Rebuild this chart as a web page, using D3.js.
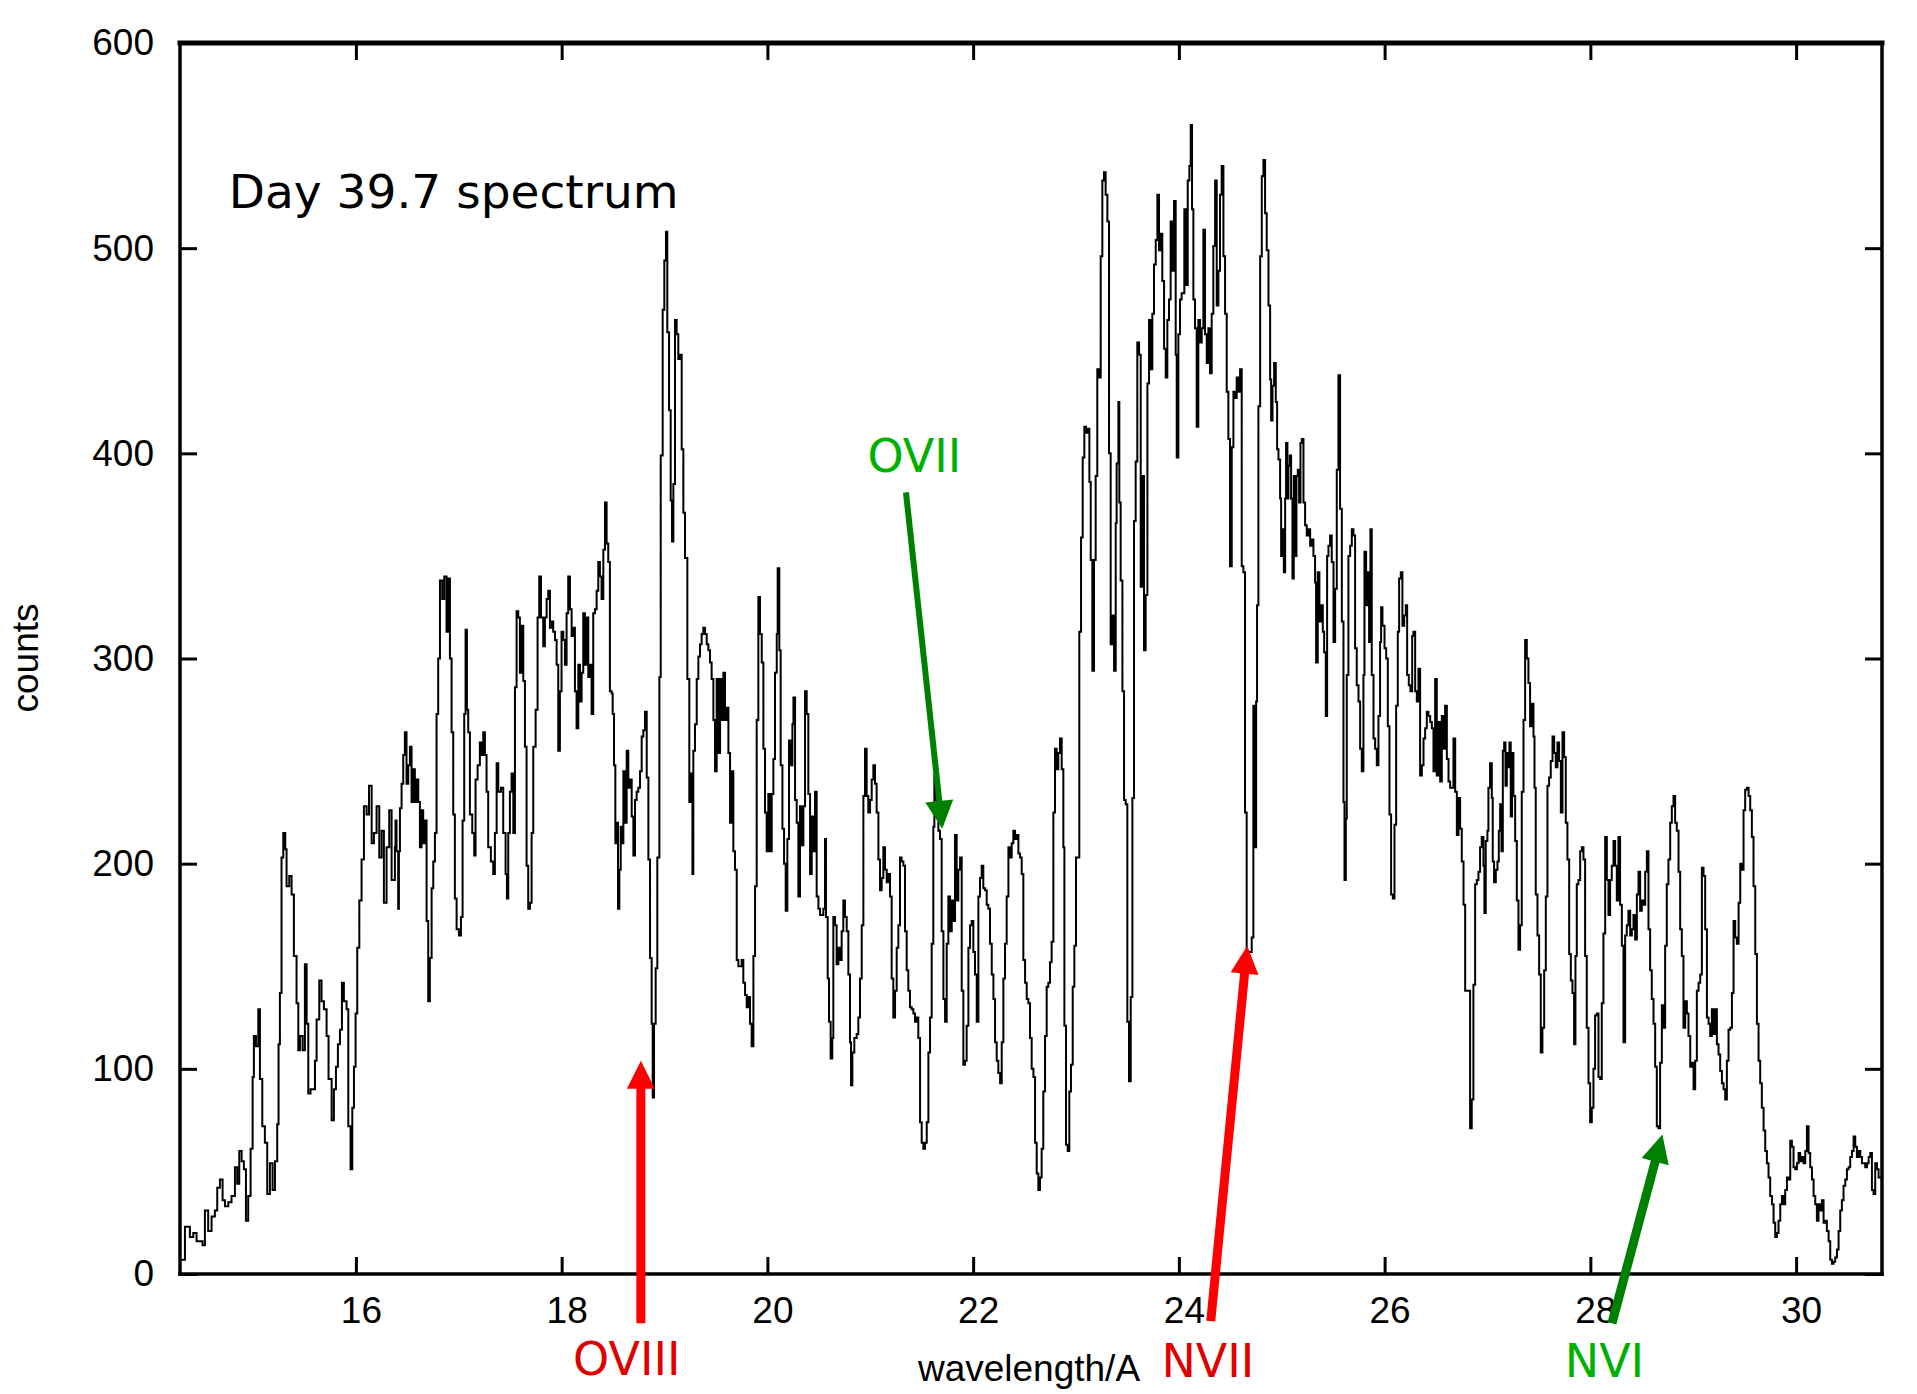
<!DOCTYPE html>
<html>
<head>
<meta charset="utf-8">
<script src="https://cdn.jsdelivr.net/npm/d3@7"></script>
<style>
  body { margin: 0; background: #fff; }
  .axis text { font-family: "Liberation Sans", Arial, sans-serif; font-size: 37px; fill: #000; }
  .axis line { stroke: #000; stroke-width: 3; }
  .label { font-family: "Liberation Sans", Arial, sans-serif; font-size: 37px; fill: #000; }
  .note { font-family: "DejaVu Sans", sans-serif; font-size: 46px; }
</style>
</head>
<body>
<svg id="chart"></svg>
<script>
// spectrum: [wavelength (A), counts]
const spectrum = [
  [14.289,7],[14.338,23],[14.354,23],[14.386,18],[14.419,20],[14.451,16],[14.483,16],[14.509,14],[14.532,31],[14.564,21],
  [14.597,28],[14.629,31],[14.652,42],[14.678,46],[14.704,36],[14.727,33],[14.759,35],[14.791,38],[14.824,52],[14.846,44],
  [14.866,60],[14.889,55],[14.911,51],[14.931,26],[14.953,38],[14.976,61],[14.996,96],[15.008,116],[15.028,111],[15.051,129],
  [15.067,95],[15.090,72],[15.115,64],[15.138,39],[15.164,54],[15.190,41],[15.213,55],[15.235,73],[15.248,112],[15.261,137],
  [15.277,203],[15.294,215],[15.313,207],[15.326,189],[15.352,194],[15.375,185],[15.397,155],[15.423,132],[15.440,109],[15.456,116],
  [15.482,109],[15.504,151],[15.521,122],[15.537,88],[15.559,90],[15.585,90],[15.602,104],[15.618,124],[15.644,143],[15.666,133],
  [15.689,129],[15.715,116],[15.734,95],[15.764,75],[15.786,90],[15.806,101],[15.825,112],[15.845,119],[15.864,142],[15.883,133],
  [15.909,129],[15.926,72],[15.948,51],[15.965,81],[15.981,101],[15.997,127],[16.013,159],[16.033,182],[16.055,202],[16.078,228],
  [16.104,224],[16.127,238],[16.153,210],[16.175,215],[16.201,228],[16.227,203],[16.250,216],[16.272,181],[16.298,208],[16.324,226],
  [16.347,192],[16.379,208],
  [16.385,221],[16.395,206],[16.411,178],[16.418,206],[16.428,227],[16.444,239],[16.460,253],[16.476,264],[16.492,239],[16.509,248],
  [16.525,257],[16.541,230],[16.557,246],[16.573,230],[16.590,241],[16.606,230],[16.622,208],[16.638,226],[16.654,210],[16.671,221],
  [16.687,172],[16.703,133],[16.719,154],[16.736,188],[16.752,201],[16.768,215],[16.784,273],[16.800,300],[16.817,338],[16.839,329],
  [16.859,340],[16.881,313],[16.898,339],[16.914,300],[16.930,264],[16.946,224],[16.962,183],[16.979,168],[17.001,165],[17.021,174],
  [17.037,221],[17.053,273],[17.066,314],[17.079,275],[17.092,264],[17.108,224],[17.131,215],[17.150,204],[17.163,241],[17.183,248],
  [17.205,259],[17.222,253],[17.238,264],[17.254,253],[17.270,235],[17.286,208],[17.312,201],[17.335,195],[17.351,215],[17.368,249],
  [17.384,235],[17.410,237],[17.432,215],[17.455,195],[17.468,183],[17.481,215],[17.497,235],[17.513,244],[17.530,215],[17.546,286],
  [17.562,323],[17.578,320],[17.594,293],[17.611,316],[17.627,289],[17.643,257],[17.659,199],[17.675,178],[17.692,181],[17.708,215],
  [17.724,257],[17.747,275],[17.766,320],[17.782,340],[17.799,320],[17.821,306],[17.837,320],[17.854,329],[17.870,333],[17.886,315],
  [17.902,318],[17.918,313],[17.935,309],[17.951,297],[17.967,255],[17.983,284],[17.999,313],[18.016,309],[18.032,297],[18.048,322],
  [18.064,340],[18.081,324],[18.097,311],[18.113,315],[18.129,284],[18.145,266],[18.162,297],[18.178,279],[18.194,293],[18.210,322],
  [18.226,297],[18.243,320],[18.259,291],[18.275,297],[18.291,273],[18.307,322],[18.324,324],[18.340,333],[18.356,347],[18.372,340],
  [18.388,329],[18.405,353],[18.421,376],[18.437,356],[18.453,347],[18.469,284],
  [18.486,283],[18.496,273],[18.509,248],[18.522,210],[18.535,220],[18.548,178],[18.561,197],[18.574,218],[18.587,210],[18.600,245],
  [18.616,220],[18.632,255],[18.648,237],[18.664,241],[18.681,223],[18.697,204],[18.713,231],[18.729,235],[18.745,237],[18.762,245],
  [18.778,262],[18.794,265],[18.810,274],[18.827,242],[18.843,202],[18.859,154],[18.875,122],[18.885,86],[18.898,122],[18.914,149],
  [18.930,203],[18.950,291],[18.963,399],[18.982,470],[18.998,494],[19.014,508],[19.027,459],[19.044,421],[19.060,377],[19.073,357],
  [19.086,385],[19.102,465],[19.118,458],[19.134,446],[19.151,448],[19.167,402],[19.183,371],[19.199,349],[19.222,290],[19.241,230],
  [19.254,244],[19.271,195],[19.280,255],[19.296,268],[19.313,290],[19.329,301],[19.345,307],[19.361,312],[19.377,315],[19.394,312],
  [19.410,307],[19.426,304],[19.442,298],[19.458,290],[19.475,270],[19.491,245],[19.507,290],[19.523,254],[19.540,290],[19.556,270],
  [19.572,293],[19.588,270],[19.604,276],[19.621,254],[19.637,220],[19.653,245],[19.669,206],[19.685,197],[19.702,153],[19.718,150],
  [19.750,153],[19.766,142],[19.783,136],[19.799,130],[19.815,135],[19.831,122],[19.847,111],[19.864,155],[19.880,189],[19.896,270],
  [19.912,330],[19.928,312],[19.945,298],[19.961,256],[19.977,225],[19.993,206],[20.009,234],[20.026,206],[20.042,234],[20.058,251],
  [20.074,293],[20.091,312],[20.100,344],[20.116,304],[20.129,248],[20.146,217],[20.162,200],[20.178,177],[20.194,212],[20.210,260],
  [20.227,248],[20.243,268],[20.253,281],[20.269,231],[20.285,220],[20.301,184],[20.317,228],[20.334,209],[20.350,228],[20.366,284],
  [20.382,273],[20.398,234],[20.415,195],[20.431,223],[20.447,206],[20.463,235],[20.479,184],[20.496,178],[20.512,175],[20.544,178],
  [20.560,212],[20.570,174],[20.586,144],[20.599,123],[20.615,105],[20.631,115],[20.641,174],[20.657,170],[20.673,151],[20.690,159],
  [20.706,153],[20.722,167],[20.738,182],[20.754,174],[20.771,167],[20.787,146],[20.803,113],[20.813,92],[20.826,108],[20.845,115],
  [20.868,117],[20.884,125],[20.900,144],[20.917,170],[20.933,233],[20.949,256],[20.965,233],[20.981,225],[20.998,231],[21.014,241],
  [21.030,248],[21.046,239],[21.062,225],[21.079,202],[21.095,187],[21.111,193],[21.127,208],[21.143,197],[21.160,191],[21.176,195],
  [21.192,184],[21.208,144],[21.224,125],[21.241,138],[21.257,159],[21.273,170],[21.289,203],[21.305,201],[21.322,199],[21.338,167],
  [21.354,148],[21.370,138],[21.386,130],[21.403,129],[21.419,127],[21.435,123],[21.451,125],[21.467,115],[21.484,74],[21.500,64],
  [21.516,61],[21.532,64],[21.549,74],[21.565,108],[21.581,125],[21.597,161],[21.613,218],[21.623,243],[21.636,231],[21.649,225],
  [21.662,216],[21.678,212],[21.694,167],[21.711,134],[21.727,123],[21.743,161],[21.759,184],[21.775,167],[21.792,182],[21.808,172],
  [21.824,214],[21.840,182],[21.856,197],[21.873,203],[21.889,138],[21.905,102],[21.921,104],[21.937,121],[21.954,159],[21.970,170],
  [21.986,172],[22.002,157],[22.018,146],[22.035,123],[22.051,184],[22.067,193],[22.083,199],[22.099,188],[22.116,187],[22.132,180],
  [22.148,178],[22.164,161],[22.181,146],[22.197,134],[22.213,113],[22.229,104],[22.245,98],[22.262,93],[22.278,113],[22.294,144],
  [22.310,161],[22.326,184],[22.343,208],[22.359,203],[22.375,210],[22.391,216],[22.407,212],[22.424,214],[22.440,205],[22.456,203],
  [22.472,195],[22.488,153],[22.505,142],[22.521,134],[22.537,132],[22.553,115],[22.569,100],[22.586,96],[22.602,64],[22.618,49],
  [22.634,41],[22.650,47],
  [22.666,61],[22.682,89],[22.699,116],[22.715,140],[22.731,142],[22.747,152],[22.763,162],[22.780,225],[22.796,256],[22.812,246],
  [22.828,254],[22.844,261],[22.861,246],[22.877,208],[22.887,121],[22.903,63],[22.919,60],[22.935,89],[22.951,102],[22.968,140],
  [22.984,160],[23.000,203],[23.016,203],[23.032,313],[23.049,359],[23.065,398],[23.081,413],[23.097,410],[23.113,412],[23.130,386],
  [23.143,348],[23.159,294],[23.175,348],[23.191,389],[23.207,441],[23.224,437],[23.240,496],[23.256,533],[23.272,537],[23.288,526],
  [23.305,513],[23.321,400],[23.337,307],[23.353,321],[23.370,294],[23.386,366],[23.395,395],[23.412,425],[23.421,376],[23.434,338],
  [23.451,284],[23.467,231],[23.483,229],[23.499,123],[23.515,94],[23.532,135],[23.548,232],[23.564,367],[23.580,396],[23.596,454],
  [23.613,448],[23.629,335],[23.645,389],[23.661,304],[23.677,331],[23.694,434],[23.710,465],[23.726,441],[23.742,468],[23.758,492],
  [23.775,504],[23.791,526],[23.807,499],[23.823,507],[23.839,484],[23.856,451],[23.872,437],[23.888,465],[23.904,475],[23.920,513],
  [23.937,489],[23.953,523],[23.969,448],[23.979,398],[23.995,458],[24.011,475],[24.027,478],[24.044,478],[24.053,519],[24.070,482],
  [24.086,533],[24.102,540],[24.115,560],[24.128,519],[24.141,475],[24.157,461],[24.173,413],[24.189,465],[24.206,454],[24.222,461],
  [24.238,509],[24.254,458],[24.271,444],[24.287,461],[24.303,439],[24.319,468],[24.335,501],[24.352,533],[24.368,472],[24.384,489],
  [24.400,526],[24.416,540],[24.433,496],[24.449,468],[24.465,430],[24.481,407],[24.497,345],[24.514,403],[24.530,430],[24.546,427],
  [24.562,437],[24.578,430],[24.595,441],[24.611,345],[24.627,342],[24.643,225],[24.659,157],[24.676,157],[24.692,157],[24.708,164],
  [24.724,277],[24.740,208],
  [24.751,279],[24.760,326],[24.773,423],[24.790,496],[24.806,535],[24.822,543],[24.838,517],[24.854,499],[24.871,472],[24.887,436],
  [24.897,416],[24.910,433],[24.926,444],[24.942,425],[24.955,402],[24.968,397],[24.984,378],[24.994,350],[25.007,363],[25.020,342],
  [25.033,378],[25.042,405],[25.055,378],[25.065,394],[25.078,399],[25.091,378],[25.104,339],[25.117,389],[25.130,350],[25.143,389],
  [25.156,392],[25.169,376],[25.182,405],[25.195,407],[25.211,376],[25.227,365],[25.243,360],[25.260,363],[25.276,355],[25.292,358],
  [25.308,350],[25.324,337],[25.334,298],[25.350,342],[25.366,318],[25.383,326],[25.399,313],[25.412,303],[25.428,272],[25.441,350],
  [25.454,355],[25.470,360],[25.486,347],[25.503,308],[25.519,334],[25.535,392],[25.551,438],[25.567,373],[25.584,318],[25.600,230],
  [25.610,192],[25.623,222],[25.632,292],[25.648,350],[25.665,355],[25.681,363],[25.697,360],[25.713,305],[25.729,287],[25.746,279],
  [25.762,256],[25.778,245],[25.794,292],[25.804,352],[25.820,326],[25.836,342],[25.849,308],[25.862,363],[25.875,292],[25.892,261],
  [25.908,256],[25.924,248],[25.940,272],[25.956,308],[25.966,325],[25.979,316],[25.999,305],[26.015,300],[26.031,267],[26.047,224],
  [26.063,185],[26.080,183],[26.096,219],[26.112,277],[26.128,313],[26.141,339],[26.157,342],[26.173,316],[26.190,321],[26.206,326],
  [26.219,292],[26.235,287],[26.251,284],[26.268,311],[26.280,313],[26.297,284],[26.313,279],[26.329,295],[26.345,243],[26.362,248],
  [26.378,261],[26.394,266],[26.410,274],[26.426,272],[26.443,269],[26.459,266],[26.475,245],[26.491,290],[26.507,243],[26.524,269],
  [26.540,240],[26.556,272],[26.572,256],[26.588,277],[26.605,251],[26.621,240],[26.637,237],[26.653,237],[26.669,261],[26.686,235],
  [26.702,214],[26.718,232],[26.734,217],[26.750,201],[26.767,180],[26.783,138],
  [26.831,71],[26.847,85],[26.863,141],[26.880,190],[26.896,192],[26.912,196],[26.928,208],[26.944,213],[26.961,199],[26.970,176],
  [26.983,211],[26.999,216],[27.009,237],[27.025,249],[27.042,232],[27.051,201],[27.064,191],[27.081,197],[27.097,201],[27.110,216],
  [27.123,229],[27.136,206],[27.149,255],[27.162,259],[27.175,238],[27.188,254],[27.200,247],[27.213,259],[27.226,223],[27.239,254],
  [27.252,233],[27.269,211],[27.285,182],[27.301,158],[27.317,170],[27.333,235],[27.350,270],[27.366,309],[27.382,300],[27.398,288],
  [27.414,267],[27.431,278],[27.447,262],[27.457,237],[27.469,185],[27.486,165],[27.502,146],[27.518,108],[27.534,120],[27.551,148],
  [27.567,184],[27.583,238],[27.599,242],[27.615,250],[27.632,262],[27.648,254],[27.664,247],[27.680,259],[27.696,250],[27.713,225],
  [27.729,264],[27.745,252],[27.761,220],[27.777,202],[27.794,156],[27.810,143],[27.826,137],[27.842,112],[27.855,155],[27.868,190],
  [27.884,192],[27.901,206],[27.917,208],[27.933,202],[27.949,155],[27.965,120],[27.982,93],[27.998,74],[28.014,81],[28.030,100],
  [28.046,126],[28.063,127],[28.079,96],[28.095,95],[28.111,132],[28.127,166],[28.144,213],[28.160,192],[28.176,175],[28.192,192],
  [28.208,199],[28.225,211],[28.241,199],[28.257,182],[28.273,213],[28.289,180],[28.306,160],[28.322,113],[28.338,165],[28.354,170],
  [28.370,177],[28.387,165],[28.403,168],[28.419,175],[28.435,163],[28.452,185],[28.468,196],[28.484,177],[28.500,182],[28.516,180],
  [28.533,196],[28.549,206],[28.565,168],[28.581,148],[28.597,134],[28.614,122],[28.630,101],[28.646,72],[28.662,71],[28.678,103],
  [28.695,131],[28.711,120],[28.727,160],[28.743,190],[28.759,202],[28.776,220],[28.792,228],[28.808,233],[28.824,220],[28.840,216],
  [28.857,196],[28.873,168],[28.889,155],[28.905,120],
  [28.922,133],[28.938,127],[28.954,116],[28.971,101],[28.987,103],[29.003,90],[29.019,104],[29.035,138],[29.052,142],[29.068,146],
  [29.084,198],[29.100,194],[29.116,168],[29.133,125],[29.149,122],[29.165,116],[29.181,129],[29.197,117],[29.214,129],[29.230,112],
  [29.246,107],[29.262,99],[29.279,93],[29.295,90],[29.311,85],[29.327,104],[29.343,119],[29.360,120],[29.376,137],[29.392,172],
  [29.408,164],[29.424,161],[29.441,181],[29.457,200],[29.473,197],[29.489,226],[29.505,236],[29.522,237],[29.538,233],[29.554,226],
  [29.570,213],[29.586,189],[29.603,156],[29.619,122],[29.635,104],[29.651,93],[29.667,81],[29.684,70],[29.700,60],[29.716,54],
  [29.732,47],[29.748,38],[29.765,34],[29.781,25],[29.797,18],[29.813,20],[29.829,26],[29.846,34],[29.862,38],[29.878,34],
  [29.894,41],[29.911,47],[29.927,46],[29.943,65],[29.959,62],[29.975,52],[29.992,51],[30.008,54],[30.024,59],[30.040,55],
  [30.056,57],[30.073,54],[30.089,60],[30.105,72],[30.121,59],[30.137,52],[30.154,46],[30.170,38],[30.186,34],[30.202,26],
  [30.218,34],[30.235,31],[30.251,36],[30.267,25],[30.283,26],[30.299,21],[30.316,16],[30.332,7],[30.348,5],[30.364,6],
  [30.380,8],[30.397,12],[30.413,21],[30.429,31],[30.445,36],[30.461,43],[30.478,46],[30.494,51],[30.510,52],[30.526,57],
  [30.543,60],[30.559,67],[30.575,62],[30.591,57],[30.607,60],[30.624,57],[30.640,54],[30.656,54],[30.672,52],[30.689,54],
  [30.705,57],[30.721,59],[30.737,41],[30.753,39],[30.769,54],[30.786,51],[30.802,47],[30.835,45]
];

const xTicks = [16, 18, 20, 22, 24, 26, 28, 30];
const yTicks = [0, 100, 200, 300, 400, 500, 600];

// line markers: arrow from -> to (data units), label position
const lines = [
  { name: "OVIII", from: [18.77, -24], to: [18.77, 104], text: [18.634, -49], arrow: "#ff0000", ink: "#e00000", width: 9 },
  { name: "OVII", from: [21.347, 381], to: [21.70, 217], text: [21.429, 391], arrow: "#008000", ink: "#00b000", width: 6 },
  { name: "NVII", from: [24.31, -23], to: [24.665, 160], text: [24.282, -50], arrow: "#ff0000", ink: "#e00000", width: 9 },
  { name: "NVI", from: [28.21, -24], to: [28.70, 68], text: [28.137, -50], arrow: "#008000", ink: "#00b000", width: 9 }
];

const width = 1917, height = 1394;
const margin = { top: 43, right: 35, bottom: 120, left: 180 };

const svg = d3.select("#chart")
    .attr("width", width)
    .attr("height", height)
    .style("background", "#fff");

const x = d3.scaleLinear()
    .domain([14.29, 30.835])
    .range([margin.left, width - margin.right]);

const y = d3.scaleLinear()
    .domain([0, 600])
    .range([height - margin.bottom, margin.top]);

svg.append("clipPath").attr("id", "plot")
  .append("rect")
    .attr("x", margin.left).attr("y", margin.top)
    .attr("width", width - margin.left - margin.right)
    .attr("height", height - margin.top - margin.bottom);

// spectrum, drawn as histogram steps
svg.append("path")
    .datum(spectrum)
    .attr("clip-path", "url(#plot)")
    .attr("fill", "none")
    .attr("stroke", "#000")
    .attr("stroke-width", 2)
    .attr("d", d3.line().curve(d3.curveStepAfter).x(d => x(d[0])).y(d => y(d[1])));

// axes with inward ticks (mirrored)
const xb = svg.append("g")
    .attr("class", "axis")
    .attr("transform", `translate(0,${y(0)})`)
    .call(d3.axisBottom(x).tickValues(xTicks).tickSize(-17).tickPadding(23));
xb.selectAll("text").attr("dx", 5);

svg.append("g")
    .attr("class", "axis")
    .attr("transform", `translate(0,${y(600)})`)
    .call(d3.axisTop(x).tickValues(xTicks).tickSize(-17).tickFormat(""));

svg.append("g")
    .attr("class", "axis")
    .attr("transform", `translate(${x.range()[0]},0)`)
    .call(d3.axisLeft(y).tickValues(yTicks).tickSize(-17).tickPadding(26));

svg.append("g")
    .attr("class", "axis")
    .attr("transform", `translate(${x.range()[1]},0)`)
    .call(d3.axisRight(y).tickValues(yTicks).tickSize(-17).tickFormat(""));

svg.selectAll(".axis .domain").remove();

// frame
const [x0, x1] = x.range();
const [yb, yt] = y.range();
const frame = [
  [x0, yt, x1, yt, 5],
  [x0, yb, x1, yb, 3.5],
  [x0, yt, x0, yb, 3.5],
  [x1, yt, x1, yb, 3.5]
];
svg.selectAll(".frame")
  .data(frame)
  .join("line")
    .attr("x1", d => d[0]).attr("y1", d => d[1])
    .attr("x2", d => d[2]).attr("y2", d => d[3])
    .attr("stroke", "#000")
    .attr("stroke-width", d => d[4])
    .attr("stroke-linecap", "square");

// axis titles
svg.append("text")
    .attr("class", "label")
    .attr("text-anchor", "middle")
    .attr("x", 1029)
    .attr("y", 1381)
    .text("wavelength/A");

svg.append("text")
    .attr("class", "label")
    .attr("text-anchor", "middle")
    .attr("transform", "translate(38,658) rotate(-90)")
    .text("counts");

svg.append("text")
    .attr("class", "note")
    .attr("x", x(14.765))
    .attr("y", y(519.5))
    .attr("fill", "#000")
    .style("font-size", "47px")
    .text("Day 39.7 spectrum");

// arrows and line labels
lines.forEach(a => {
    const ax = x(a.from[0]), ay = y(a.from[1]);
    const bx = x(a.to[0]), by = y(a.to[1]);
    const len = Math.hypot(bx - ax, by - ay);
    const ux = (bx - ax) / len, uy = (by - ay) / len;
    const hl = 28, hw = 14;
    const cx = bx - ux * hl, cy = by - uy * hl;

    svg.append("line")
        .attr("x1", ax).attr("y1", ay)
        .attr("x2", cx + ux * 2).attr("y2", cy + uy * 2)
        .attr("stroke", a.arrow)
        .attr("stroke-width", a.width);

    svg.append("path")
        .attr("d", `M${bx},${by}L${cx - uy * hw},${cy + ux * hw}L${cx + uy * hw},${cy - ux * hw}Z`)
        .attr("fill", a.arrow);

    svg.append("text")
        .attr("class", "note")
        .attr("text-anchor", "middle")
        .attr("x", x(a.text[0]))
        .attr("y", y(a.text[1]))
        .attr("fill", a.ink)
        .text(a.name);
});
</script>
</body>
</html>
